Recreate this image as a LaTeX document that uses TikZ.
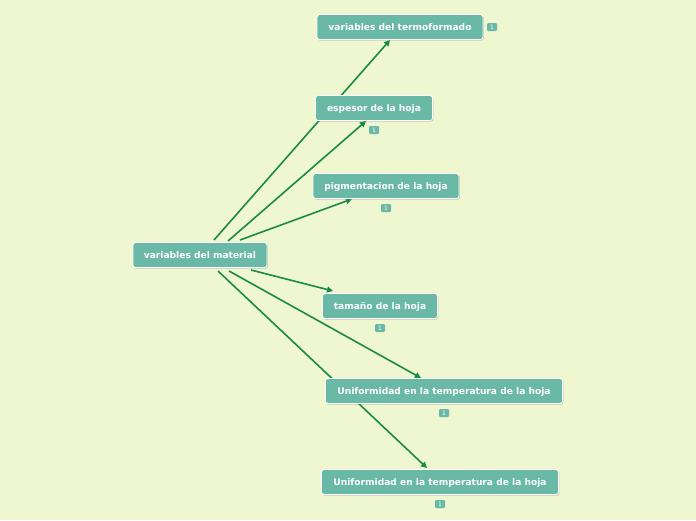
\documentclass[tikz,border=0pt]{standalone}
\usepackage{fontspec}
\setmainfont{DejaVu Sans}
\usepackage{tikz}
\usetikzlibrary{arrows.meta,shadows}
\definecolor{paper}{HTML}{EEF7D0}
\definecolor{teal}{HTML}{6AB8A6}
\definecolor{edge}{HTML}{1B8A48}

\begin{document}
\begin{tikzpicture}[x=1pt, y=-1pt,
  box/.style={draw=white, rounded corners=2.5pt, fill=teal, text=white,
              font=\fontsize{9.1}{10}\selectfont\bfseries, inner sep=0pt,
              minimum height=25pt, line width=0.9pt,
              text height=7.5pt, text depth=0.5pt,
              drop shadow={shadow xshift=0.8pt, shadow yshift=-1.2pt, opacity=0.4}},
  badge/.style={fill=teal, rounded corners=1.2pt, text=white, inner sep=0pt,
                minimum width=10pt, minimum height=8pt,
                font=\fontsize{6}{6}\selectfont},
  arrow/.style={-{Triangle[length=6pt, width=6pt]}, line width=1.6pt, draw=edge}
]
\fill[paper] (0,0) rectangle (696,520);
\useasboundingbox (0,0) rectangle (696,520);

% branches from the central topic
\coordinate (s1) at (214,240);
\coordinate (s2) at (228,241);
\coordinate (s3) at (240,240);
\coordinate (s4) at (251,270);
\coordinate (s5) at (229,271);
\coordinate (s6) at (218,271);
\coordinate (e1) at (390,40);
\coordinate (e2) at (366,121);
\coordinate (e3) at (352,199);
\coordinate (e4) at (333,291);
\coordinate (e5) at (421,378);
\coordinate (e6) at (427,468);

\draw[arrow] (s1) -- (e1);
\draw[arrow] (s2) -- (e2);
\draw[arrow] (s3) -- (e3);
\draw[arrow] (s4) -- (e4);
\draw[arrow] (s5) -- (e5);
\draw[arrow] (s6) -- (e6);

\node[box, minimum width=134pt] (material) at (200,255) {variables del material};
\node[box, minimum width=166pt] (termo) at (400,27) {variables del termoformado};
\node[box, minimum width=117pt] (espesor) at (374,108) {espesor de la hoja};
\node[box, minimum width=146pt] (pigment) at (386,186) {pigmentacion de la hoja};
\node[box, minimum width=115pt] (tamano) at (380,306) {tamaño de la hoja};
\node[box, minimum width=237pt] (unif1) at (444,391) {Uniformidad en la temperatura de la hoja};
\node[box, minimum width=237pt] (unif2) at (440,482) {Uniformidad en la temperatura de la hoja};

\node[badge] (b1) at (492,27) {1};
\node[badge] (b2) at (374,130) {1};
\node[badge] (b3) at (386,208) {1};
\node[badge] (b4) at (380,328) {1};
\node[badge] (b5) at (444,413) {1};
\node[badge] (b6) at (440,504) {1};
\end{tikzpicture}
\end{document}
